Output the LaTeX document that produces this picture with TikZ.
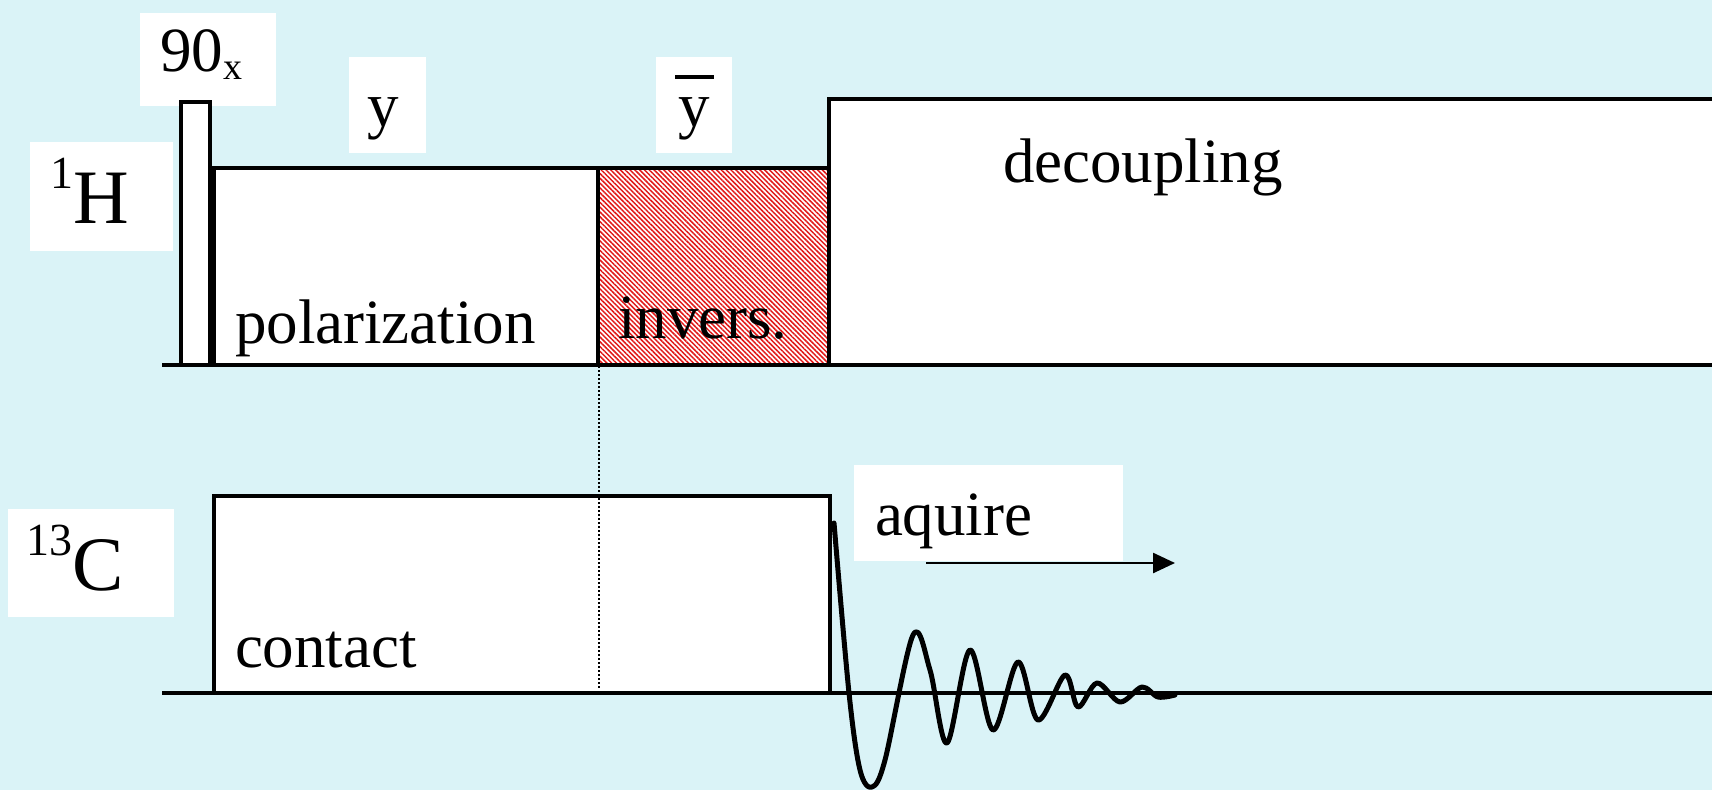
\documentclass[tikz,border=0pt]{standalone}
\usepackage{fontspec}
\setmainfont{Liberation Serif}
\usetikzlibrary{arrows.meta,patterns.meta}
\definecolor{bgc}{RGB}{218,243,247}
\definecolor{hatchred}{RGB}{225,25,25}
\tikzset{
  labelbg/.style={fill=white, draw=none},
  pulsebox/.style={draw=black, fill=white, line width=3.6pt, line join=miter},
  hatchbox/.style={draw=black, line width=3.6pt, pattern={Lines[angle=-45,distance=3.4pt,line width=1.5pt]}, pattern color=hatchred},
  txt/.style={anchor=base west, inner sep=0pt, outer sep=0pt, font=\fontsize{63}{63}\selectfont},
  bigtxt/.style={anchor=base west, inner sep=0pt, outer sep=0pt, font=\fontsize{77}{77}\selectfont},
  axisline/.style={line width=4.5pt},
  fidline/.style={line width=5pt, line join=round, line cap=round},
  acqarrow/.style={line width=2.5pt, -{Triangle[length=22pt,width=20pt]}},
  guide/.style={line width=1.6pt, dash pattern=on 1.6pt off 2.4pt}
}
\begin{document}
\begin{tikzpicture}[x=1pt,y=-1pt]
\useasboundingbox (0,0) rectangle (1712,790);
\fill[bgc] (0,0) rectangle (1712,790);
\clip (0,0) rectangle (1712,790);

% white label backgrounds
\fill[labelbg] (30,142) rectangle (173,251);
\fill[labelbg] (140,13) rectangle (276,106);
\fill[labelbg] (349,57) rectangle (426,153);
\fill[labelbg] (656,57) rectangle (732,153);
\fill[labelbg] (8,509) rectangle (174,617);
\fill[labelbg] (854,465) rectangle (1123,561);

% 1H channel
\draw[pulsebox] (181,102) rectangle (210,365);
\draw[pulsebox] (214,168) rectangle (598,365);
\fill[white] (598,168) rectangle (829,365);
\draw[hatchbox] (598,168) rectangle (829,365);
\draw[pulsebox] (829,99) rectangle (1730,365);
\draw[axisline] (162,365) -- (1712,365);

% 13C channel
\draw[pulsebox] (214,496) rectangle (830,693);
\draw[axisline] (162,693) -- (1712,693);

% dotted guide
\coordinate (g1) at (599,366);
\coordinate (g2) at (599,688);
\draw[guide] (g1) -- (g2);

% FID
\draw[fidline] plot[smooth, tension=0.55] coordinates {
  (834,523) (849,693) (860,770) (872,787) (885,760) (913,635) (930,670) (947,743)
  (970,650) (993,730) (1018,662) (1038,720) (1065,675) (1078,707)
  (1097,683) (1120,702) (1142,687) (1158,697) (1175,695)};

% acquisition arrow
\coordinate (acqS) at (926,563);
\coordinate (acqE) at (1175,563);
\draw[acqarrow] (acqS) -- (acqE);

% texts
\node[bigtxt] (hlab) at (50,223) {\raisebox{35pt}{\fontsize{46}{46}\selectfont 1}H};
\node[bigtxt] (clab) at (27,590) {\raisebox{35pt}{\fontsize{46}{46}\selectfont 13}C};
\node[txt] (ninety) at (160,71) {90\raisebox{-8pt}{\fontsize{38}{38}\selectfont x}};
\node[txt] (ylab) at (367,126) {y};
\node[txt] (ybarlab) at (678,126) {y};
\draw[line width=4pt] (675,77) -- (714,77);
\node[txt] (pol) at (235,343) {polarization};
\node[txt] (inv) at (618,338) {invers.};
\node[txt] (dec) at (1003,182) {decoupling};
\node[txt] (con) at (235,667) {contact};
\node[txt] (acq) at (875,535) {aquire};
\end{tikzpicture}
\end{document}
